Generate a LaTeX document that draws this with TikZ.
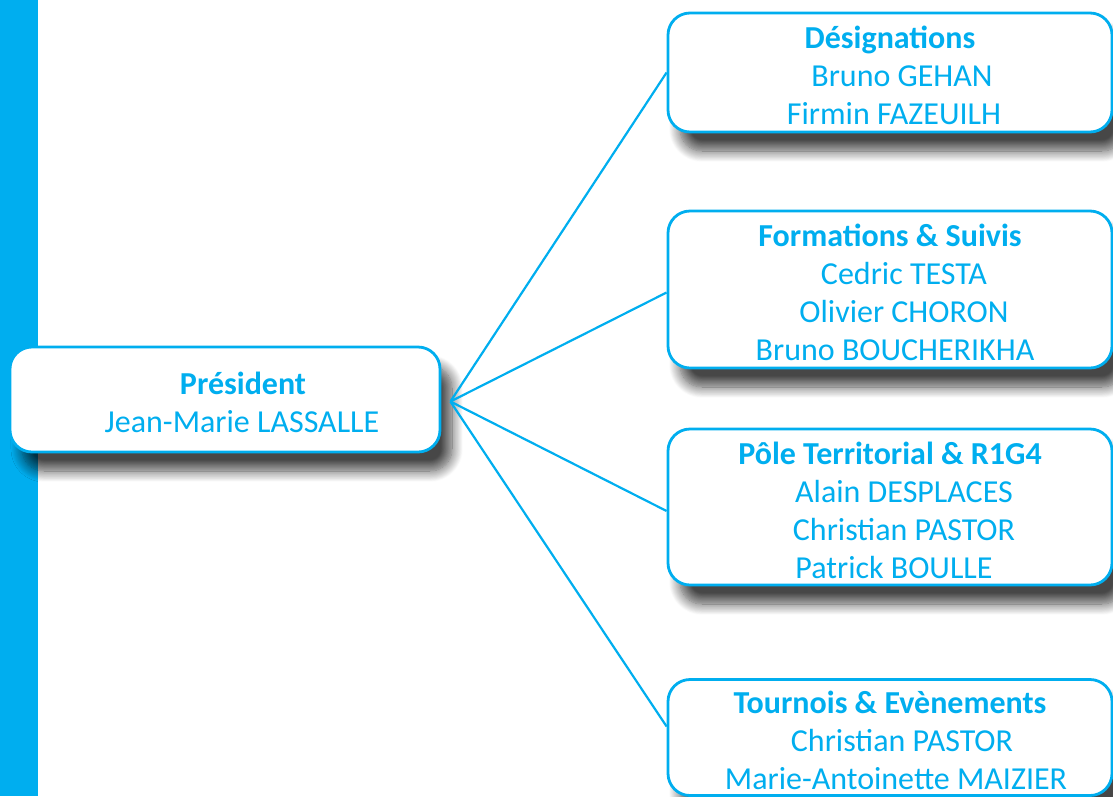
\documentclass[tikz,border=0pt]{standalone}
\usepackage{fontspec}
\setmainfont{Carlito}
\usetikzlibrary{shadows.blur}

\definecolor{ffblue}{HTML}{00AEEF}
\newcommand{\ind}[1]{\hspace*{#1}}
\newcommand{\tstrut}{\rule{0pt}{29pt}}

\tikzset{
    postbox/.style={draw=ffblue, line width=2.8pt, fill=white, rounded corners=22pt,
        align=center, text=ffblue, font=\fontsize{32}{38}\selectfont,
        blur shadow={shadow xshift=12pt, shadow yshift=-19pt, shadow blur radius=11pt,
            shadow opacity=72, shadow blur steps=14}},
    link/.style={draw=ffblue, line width=2.2pt}
}

\begin{document}
\begin{tikzpicture}[x=1pt,y=-1pt]

        \useasboundingbox (0,0) rectangle (1113,796);
        \fill[ffblue] (0,0) rectangle (38,796);

        \node[postbox, minimum width=430pt, minimum height=105pt] (pres) at (225,399.5)
            {\tstrut\ind{36pt}\textbf{Président}\\ \ind{34pt}Jean-Marie LASSALLE};
        \node[postbox, minimum width=444pt, minimum height=119pt] (des) at (890,72.5)
            {\tstrut\textbf{Désignations}\\ \ind{24pt}Bruno GEHAN\\ \ind{8pt}Firmin FAZEUILH};
        \node[postbox, minimum width=444pt, minimum height=157pt] (form) at (890,289.5)
            {\tstrut\textbf{Formations \& Suivis}\\ \ind{28pt}Cedric TESTA\\ \ind{28pt}Olivier CHORON\\ \ind{10pt}Bruno BOUCHERIKHA};
        \node[postbox, minimum width=444pt, minimum height=156pt] (pole) at (890,507)
            {\tstrut\textbf{Pôle Territorial \& R1G4}\\ \ind{28pt}Alain DESPLACES\\ \ind{28pt}Christian PASTOR\\ \ind{8pt}Patrick BOULLE};
        \node[postbox, minimum width=444pt, minimum height=116pt] (tour) at (890,737.5)
            {\tstrut\textbf{Tournois \& Evènements}\\ \ind{24pt}Christian PASTOR\\ \ind{12pt}Marie-Antoinette MAIZIER};

        \coordinate (hub) at ([xshift=9pt,yshift=-2pt]pres.east);
        \draw[link] (hub) -- (des.west);
        \draw[link] (hub) -- ([yshift=-3pt]form.west);
        \draw[link] (hub) -- ([yshift=-4pt]pole.west);
        \draw[link] (hub) -- ([yshift=11pt]tour.west);
    \end{tikzpicture}
\end{document}
